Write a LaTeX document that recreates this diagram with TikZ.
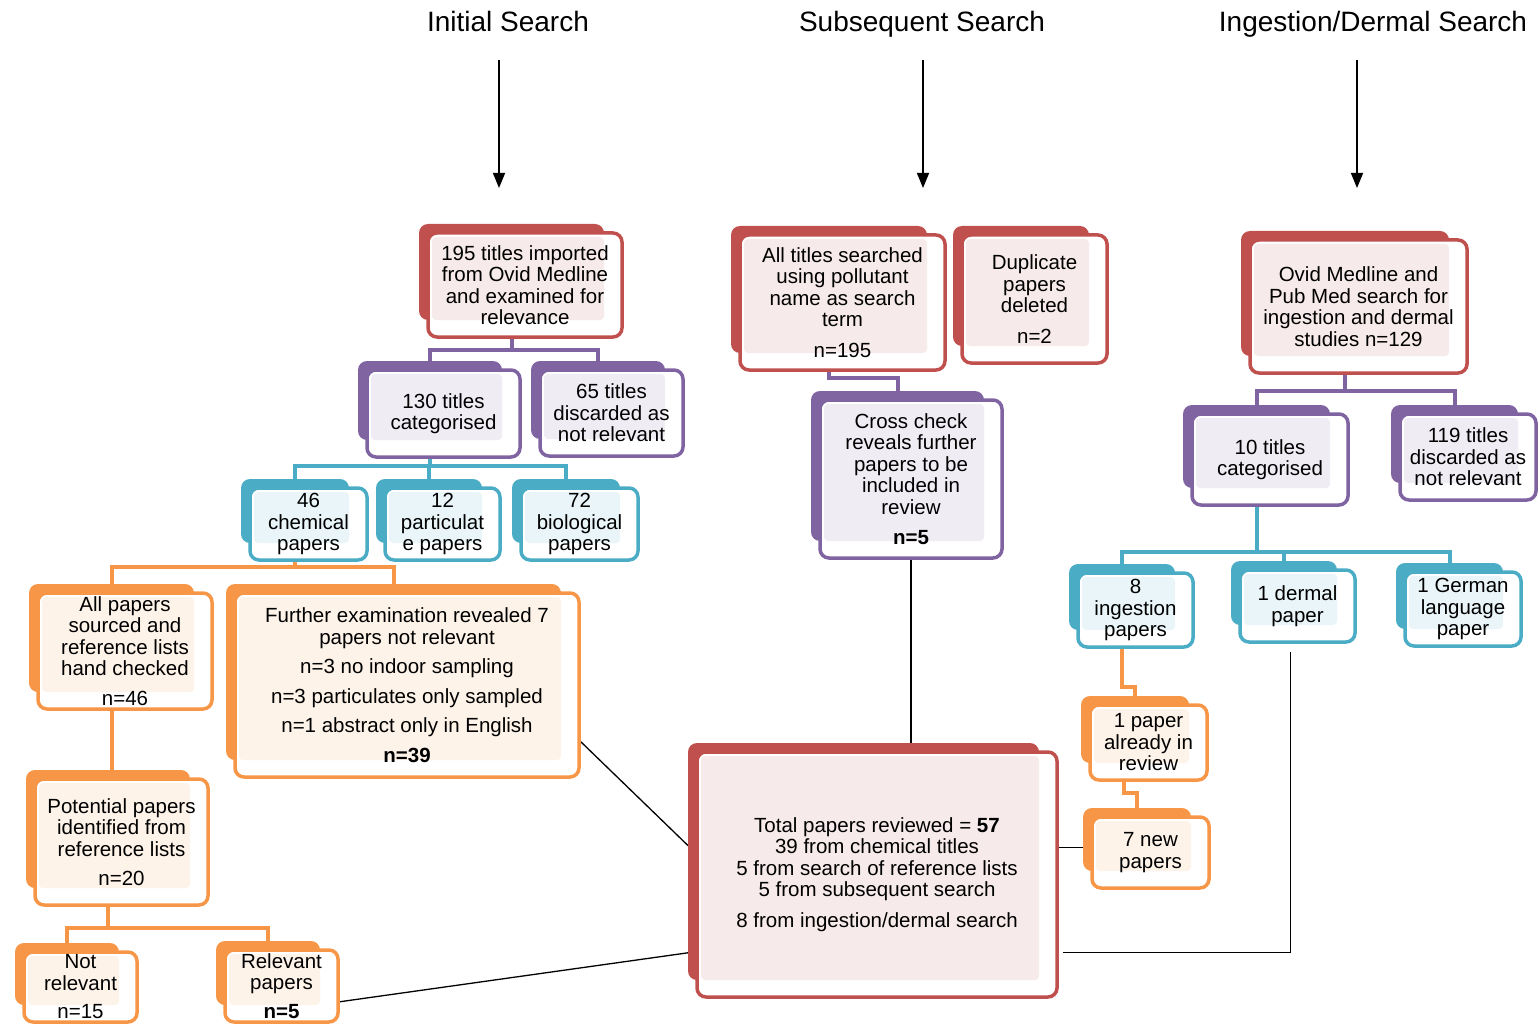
\documentclass[tikz,border=0pt]{standalone}
\usepackage{fontspec}
\setmainfont{Liberation Sans}
\usetikzlibrary{arrows.meta,calc,positioning}
\definecolor{boxred}{HTML}{C0504D}
\definecolor{boxpurple}{HTML}{8064A2}
\definecolor{boxteal}{HTML}{4BACC6}
\definecolor{boxorange}{HTML}{F79646}
\pgfdeclarelayer{wires}
\pgfdeclarelayer{backs}
\pgfsetlayers{wires,backs,main}

% name, cx, cy, w, h, colour, text
\newcommand{\stagebox}[7]{%
  \node[frontbox=#6, minimum width=#4, minimum height=#5] (#1) at (#2,#3) {#7};
  \begin{pgfonlayer}{backs}
    \node[backbox=#6, minimum width=#4-9, minimum height=#5-8, anchor=north west] (#1-b) at ($(#1.north west)+(-9,-9)$) {};
    \fill[white, rounded corners=9pt] (#1.north west) rectangle (#1.south east);
    \fill[#6!12, rounded corners=4pt] ($(#1.north west)+(4,4)$) rectangle (#1-b.south east);
  \end{pgfonlayer}}

\begin{document}
\begin{tikzpicture}[
    x=1pt, y=-1pt,
    frontbox/.style={draw=#1, line width=3.5pt, rounded corners=9pt, align=center, inner sep=0pt, outer sep=0pt, font=\fontsize{20.5}{21.5}\selectfont},
    backbox/.style={fill=#1, rounded corners=9pt, inner sep=0pt, outer sep=0pt},
    link/.style={draw=#1, line width=4pt},
    wire/.style={draw=black, line width=1.3pt},
    arr/.style={-{Triangle[width=12pt,length=15pt]}, line width=1.5pt},
    heading/.style={font=\fontsize{28}{30}\selectfont, inner sep=0pt, anchor=base}
  ]
  \useasboundingbox (0,0) rectangle (1538,1024);

  % headings
  \node[heading] (init) at (508,32) {Initial Search};
  \node[heading] (subs) at (922,32) {Subsequent Search};
  \node[heading] (ingest) at (1373,32) {Ingestion/Dermal Search};
  \draw[arr] ($(init.base)+(-9,28)$) -- ++(0,128);
  \draw[arr] ($(subs.base)+(1,28)$) -- ++(0,128);
  \draw[arr] ($(ingest.base)+(-16,28)$) -- ++(0,128);

  % initial search
  \stagebox{t195}{525}{285}{194}{104}{boxred}{195 titles imported\\from Ovid Medline\\and examined for\\relevance}
  \stagebox{t130}{443.5}{413.5}{153}{87}{boxpurple}{130 titles\\categorised}
  \stagebox{t65}{611.5}{413}{143}{86}{boxpurple}{65 titles\\discarded as\\not relevant}
  \stagebox{chem}{308.5}{524}{117}{72}{boxteal}{46\\chemical\\papers}
  \stagebox{part}{442.5}{524}{115}{72}{boxteal}{12\\particulat\\e papers}
  \stagebox{bio}{579.5}{524}{117}{72}{boxteal}{72\\biological\\papers}
  \stagebox{allp}{125}{651}{174}{116}{boxorange}{All papers\\sourced and\\reference lists\\hand checked\\[8pt]n=46}
  \stagebox{further}{407}{685}{344}{184}{boxorange}{Further examination revealed 7\\papers not relevant\\[8pt]n=3 no indoor sampling\\[8pt]n=3 particulates only sampled\\[8pt]n=1 abstract only in English\\[8pt]\textbf{n=39}}
  \stagebox{potent}{121.5}{842}{173}{126}{boxorange}{Potential papers\\identified from\\reference lists\\[8pt]n=20}
  \stagebox{notrel}{80.5}{987}{113}{70}{boxorange}{Not\\relevant\\[7pt]n=15}
  \stagebox{relev}{281.5}{986}{113}{72}{boxorange}{Relevant\\papers\\[7pt]\textbf{n=5}}

  % subsequent search
  \stagebox{pollut}{842.5}{302.5}{205}{135}{boxred}{All titles searched\\using pollutant\\name as search\\term\\[9pt]n=195}
  \stagebox{dupl}{1034.5}{299}{145}{128}{boxred}{Duplicate\\papers\\deleted\\[9pt]n=2}
  \stagebox{cross}{911}{479}{182}{158}{boxpurple}{Cross check\\reveals further\\papers to be\\included in\\review\\[9pt]\textbf{n=5}}

  % ingestion/dermal search
  \stagebox{ovid}{1358.5}{306.5}{217}{133}{boxred}{Ovid Medline and\\Pub Med search for\\ingestion and dermal\\studies n=129}
  \stagebox{t10}{1270}{459.5}{156}{91}{boxpurple}{10 titles\\categorised}
  \stagebox{t119}{1468}{457}{136}{86}{boxpurple}{119 titles\\discarded as\\not relevant}
  \stagebox{ing}{1135.5}{610}{115}{74}{boxteal}{8\\ingestion\\papers}
  \stagebox{derm}{1297.5}{606}{115}{72}{boxteal}{1 dermal\\paper}
  \stagebox{germ}{1463}{609}{116}{74}{boxteal}{1 German\\language\\paper}
  \stagebox{inrev}{1148.5}{742.5}{117}{75}{boxorange}{1 paper\\already in\\review}
  \stagebox{newp}{1150.5}{852.5}{117}{71}{boxorange}{7 new\\papers}

  % total
  \stagebox{total}{877}{874.5}{360}{245}{boxred}{Total papers reviewed = \textbf{57}\\39 from chemical titles\\5 from search of reference lists\\5 from subsequent search\\[9pt]8 from ingestion/dermal search}

  \begin{pgfonlayer}{wires}
    \draw[link=boxpurple] (t195-b.south) -- ++(0,30) -| (t130-b.north);
    \draw[link=boxpurple] (t195-b.south) -- ++(0,30) -| (t65-b.north);
    \draw[link=boxteal] (t130-b.south) -- ++(0,26) -| (chem-b.north);
    \draw[link=boxteal] (t130-b.south) -- ++(0,26) -| (part-b.north);
    \draw[link=boxteal] (t130-b.south) -- ++(0,26) -| (bio-b.north);
    \draw[link=boxorange] (chem-b.south) -- ++(0,24) -| (allp-b.north);
    \draw[link=boxorange] (chem-b.south) -- ++(0,24) -| (further-b.north);
    \draw[link=boxorange] (allp-b.south) -- (allp-b.south |- potent-b.north);
    \draw[link=boxorange] (potent-b.south) -- ++(0,40) -| (notrel-b.north);
    \draw[link=boxorange] (potent-b.south) -- ++(0,40) -| (relev-b.north);
    \draw[link=boxpurple] (pollut-b.south) -- ++(0,25) -| (cross-b.north);
    \draw[link=boxpurple] (ovid-b.south) -- ++(0,35) -| (t10-b.north);
    \draw[link=boxpurple] (ovid-b.south) -- ++(0,35) -| (t119-b.north);
    \draw[link=boxteal] (t10-b.south) -- ++(0,64) -| (ing-b.north);
    \draw[link=boxteal] (t10-b.south) -- ++(0,64) -| (derm-b.north);
    \draw[link=boxteal] (t10-b.south) -- ++(0,64) -| (germ-b.north);
    \draw[link=boxorange] (ing-b.south) -- ++(0,57) -| (inrev-b.north);
    \draw[link=boxorange] ($(inrev-b.south)+(-11,0)$) -- ++(0,30) -| (newp-b.north);

    \draw[wire] ($(further.south east)+(0,-37)$) -- ($(total.west)+(-7,-27)$);
    \draw[wire] ($(relev.east)+(0,16)$) -- ($(total.west)+(-7,78)$);
    \draw[wire] (cross.south) -- (cross.south |- total-b.north);
    \draw[wire] ($(derm.south)+(-7,10)$) |- ($(total.east)+(6,78)$);
    \draw[wire] ($(newp.west)+(0,-5)$) -- ($(total.east)+(0,-27)$);
  \end{pgfonlayer}
\end{tikzpicture}
\end{document}
